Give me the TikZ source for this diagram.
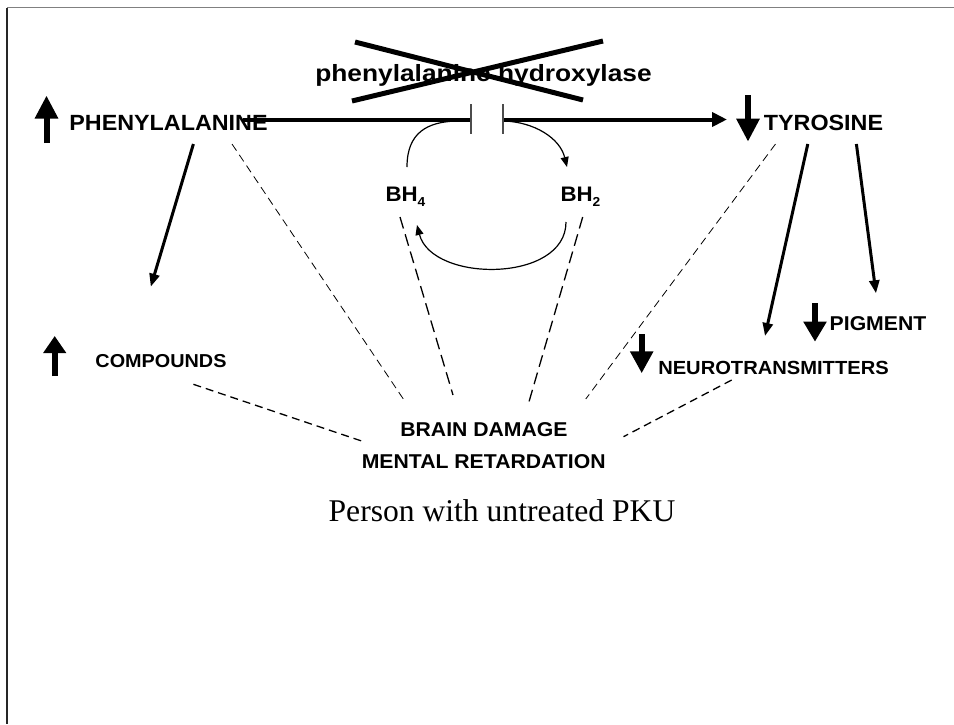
\documentclass[tikz,border=0pt]{standalone}
\usepackage{fontspec}
\setmainfont{Liberation Serif}
\newfontfamily\lblfont{Liberation Sans}[FakeStretch=1.06]
\newfontfamily\enzfont{Liberation Sans}[FakeStretch=1.12]
\usetikzlibrary{arrows.meta}

% subscript digit for the pterin cofactors
\newcommand{\cofsub}[1]{\raisebox{-0.22em}{\fontsize{13}{13}\selectfont #1}}

\tikzset{
  lbl/.style={inner sep=0pt, anchor=base, font=\lblfont\bfseries\fontsize{#1}{#1}\selectfont},
  enzlbl/.style={inner sep=0pt, anchor=base, font=\enzfont\bfseries\fontsize{23.5}{24}\selectfont},
  caption/.style={inner sep=0pt, anchor=base, font=\fontsize{31.6}{32}\selectfont},
  mainarrow/.style={line width=4pt, -{Triangle[length=15pt,width=14pt]}},
  patharrow/.style={line width=3pt, -{Triangle[length=13pt,width=10pt]}},
  levelarrow/.style={line width=6pt, -{Triangle[length=#1,width=22pt]}},
  cycle/.style={line width=1.2pt},
  cyclearrow/.style={line width=1.2pt, -{Triangle[length=10pt,width=8pt]}},
  thindash/.style={line width=0.8pt, dash pattern=on 8pt off 5pt},
  cofdash/.style={line width=1.3pt, dash pattern=on 12pt off 6pt},
  middash/.style={line width=1.3pt, dash pattern=on 8pt off 5pt},
  gapbar/.style={line width=1.5pt, draw=black!70},
  crossout/.style={line width=5pt},
}

\begin{document}
\begin{tikzpicture}[x=1pt, y=-1pt]
  \useasboundingbox (0,0) rectangle (954,724);

  % frame edges
  \draw[line width=1.7pt, draw=black!50] (7,7.5) -- (954,7.5);
  \draw[line width=1.5pt, draw=black!85] (7.2,7.5) -- (7.2,724);

  % labels
  \node[enzlbl] (enz) at (483.5,81.5) {phenylalanine hydroxylase};
  \node[lbl=22] (phe) at (168.5,130) {PHENYLALANINE};
  \node[lbl=22] (tyr) at (823.5,130) {TYROSINE};
  \node[lbl=21] (bh4) at (405.5,201.5) {BH\cofsub{4}};
  \node[lbl=21] (bh2) at (580.5,201.5) {BH\cofsub{2}};
  \node[lbl=20] (pig) at (878,330) {PIGMENT};
  \node[lbl=19] (neuro) at (773.5,374) {NEUROTRANSMITTERS};
  \node[lbl=18.7] (comp) at (161,367.3) {COMPOUNDS};
  \node[lbl=20] (brain) at (484,436) {BRAIN DAMAGE};
  \node[lbl=20] (mental) at (483.7,468.3) {MENTAL RETARDATION};
  \node[caption] (title) at (502,521) {Person with untreated PKU};

  % blocked enzyme: cross over the name
  \coordinate (xa1) at (355,42);  \coordinate (xa2) at (583,100);
  \coordinate (xb1) at (352,101); \coordinate (xb2) at (603,41);
  \draw[crossout] (xa1) -- (xa2);
  \draw[crossout] (xb1) -- (xb2);

  % conversion phenylalanine -> tyrosine, interrupted at the enzyme
  \coordinate (mainL) at (243,119.5);
  \coordinate (gapL) at (471,119.5);
  \coordinate (gapR) at (503,119.5);
  \coordinate (mainR) at (727,119.5);
  \draw[line width=4pt] (mainL) -- (gapL);
  \draw[mainarrow] (gapR) -- (mainR);
  \coordinate (barLt) at (471,104); \coordinate (barLb) at (471,134);
  \coordinate (barRt) at (503,104); \coordinate (barRb) at (503,134);
  \draw[gapbar] (barLt) -- (barLb);
  \draw[gapbar] (barRt) -- (barRb);

  % cofactor cycle
  \coordinate (bh4top) at (407,167);
  \coordinate (bh2top) at (567,167);
  \coordinate (bh2bot) at (566,222);
  \coordinate (bh4bot) at (417,225);
  \coordinate (cycL) at (456,121);
  \coordinate (cycR) at (504,121);
  \draw[cycle] (bh4top) .. controls (407,132) and (428,122) .. (cycL);
  \draw[cyclearrow] (cycR) .. controls (534,122) and (560,138) .. (bh2top);
  \draw[cyclearrow] (bh2bot) .. controls (566,283) and (432,283) .. (bh4bot);

  % metabolic side routes
  \coordinate (pheOut) at (193.4,144); \coordinate (compIn) at (150.8,286.7);
  \coordinate (tyrOutA) at (807.8,144); \coordinate (neuroIn) at (765,336);
  \coordinate (tyrOutB) at (856.4,144); \coordinate (pigIn) at (876,293.3);
  \draw[patharrow] (pheOut) -- (compIn);
  \draw[patharrow] (tyrOutA) -- (neuroIn);
  \draw[patharrow] (tyrOutB) -- (pigIn);

  % raised / lowered level markers
  \coordinate (upPheB) at (46.5,143);   \coordinate (upPheT) at (46.5,95.5);
  \coordinate (dnTyrT) at (748,95);     \coordinate (dnTyrB) at (748,141.7);
  \coordinate (upCompB) at (54.7,376);  \coordinate (upCompT) at (54.7,336);
  \coordinate (dnNeuT) at (641.7,334);  \coordinate (dnNeuB) at (641.7,373.3);
  \coordinate (dnPigT) at (815,303);    \coordinate (dnPigB) at (815,341.7);
  \draw[levelarrow=23pt] (upPheB) -- (upPheT);
  \draw[levelarrow=23pt] (dnTyrT) -- (dnTyrB);
  \draw[levelarrow=17pt] (upCompB) -- (upCompT);
  \draw[levelarrow=22pt] (dnNeuT) -- (dnNeuB);
  \draw[levelarrow=20pt] (dnPigT) -- (dnPigB);

  % links to the clinical outcome
  \coordinate (dPhe) at (232,144);   \coordinate (dPheE) at (404,400);
  \coordinate (dBh4) at (400,217);   \coordinate (dBh4E) at (453,395);
  \coordinate (dBh2) at (582.7,217); \coordinate (dBh2E) at (529,401.7);
  \coordinate (dTyr) at (775.5,144); \coordinate (dTyrE) at (585.8,399);
  \coordinate (dComp) at (193.4,384.3); \coordinate (dCompE) at (363.7,441.7);
  \coordinate (dNeu) at (731.7,380); \coordinate (dNeuE) at (623.5,436.7);
  \draw[thindash] (dPhe) -- (dPheE);
  \draw[cofdash] (dBh4) -- (dBh4E);
  \draw[cofdash] (dBh2) -- (dBh2E);
  \draw[thindash] (dTyr) -- (dTyrE);
  \draw[middash] (dComp) -- (dCompE);
  \draw[middash] (dNeu) -- (dNeuE);
\end{tikzpicture}
\end{document}
